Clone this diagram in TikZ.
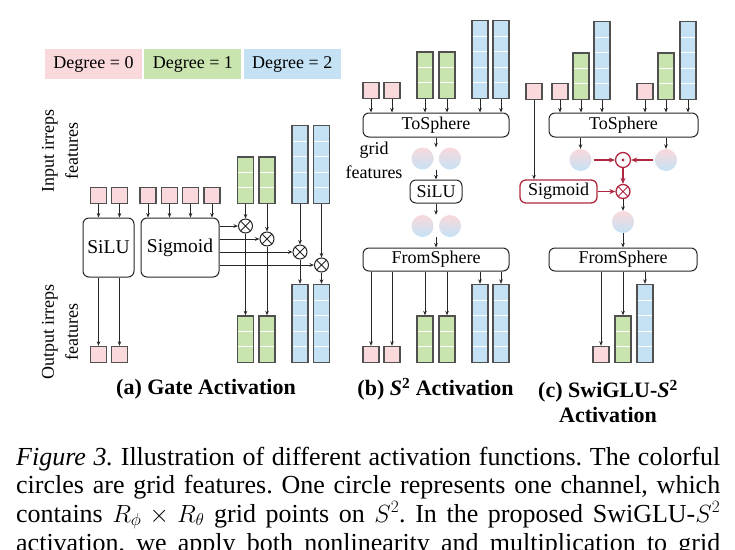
\documentclass[tikz,border=0pt]{standalone}
\usepackage{fontspec}
\setmainfont{Liberation Serif}
\usetikzlibrary{arrows.meta,positioning}
\definecolor{deg0}{HTML}{F9D9DB}
\definecolor{deg1}{HTML}{C9E4AF}
\definecolor{deg2}{HTML}{C5E2F5}
\definecolor{edge}{HTML}{505050}
\definecolor{gate}{HTML}{B0283F}
\frenchspacing

\begin{document}
\begin{tikzpicture}[x=1pt,y=-1pt,font=\fontsize{18}{24}\selectfont,
deg/.style={fill=#1,minimum width=97pt,minimum height=30pt,inner sep=0pt},
sq/.style={draw=edge,line width=1.2pt,fill=deg0,minimum size=16pt,inner sep=0pt,anchor=south},
bar/.style={draw=edge,line width=1.2pt,fill=#1,minimum width=16pt,inner sep=0pt,anchor=south},
cells/.style={path picture={\foreach \k in {1,...,#1}\draw[white,line width=1pt]([yshift=\k*15.5pt]path picture bounding box.south west)--([yshift=\k*15.5pt]path picture bounding box.south east);}},
gb/.style={bar=deg1,minimum height=46.5pt,cells=2},
bb/.style={bar=deg2,minimum height=78pt,cells=4},
op/.style={draw=black!85,rounded corners=6pt,line width=1pt,inner sep=0pt},
gf/.style={circle,minimum size=22pt,inner sep=0pt,top color=deg0,middle color=deg1,bottom color=deg2},
ot/.style={circle,draw=#1,line width=1pt,minimum size=14pt,inner sep=0pt,path picture={\draw[#1,line width=1pt](path picture bounding box.north west)--(path picture bounding box.south east)(path picture bounding box.north east)--(path picture bounding box.south west);}},
ot/.default=black!85,
od/.style={circle,draw=gate,line width=1.3pt,minimum size=15pt,inner sep=0pt,path picture={\fill[gate](path picture bounding box.center)circle(1.7pt);}},
a/.style={-{Stealth[length=4.5pt,width=3.6pt]},line width=.8pt,draw=black!85},
ra/.style={-{Stealth[length=6pt,width=5pt]},line width=1.3pt,draw=gate},
subcap/.style={font=\fontsize{22}{25}\selectfont\bfseries,align=center},
txt/.style={anchor=base west,inner sep=0pt,font=\fontsize{26}{29}\selectfont}]
\clip(0,0)rectangle(735,549);
% legend and side labels
\node[deg=deg0](d0) at (93.5,64){Degree = 0};
\node[deg=deg1,right=2pt of d0](d1){Degree = 1};
\node[deg=deg2,right=2pt of d1](d2){Degree = 2};
\node[rotate=90,align=center](inl) at (60,151){Input irreps\\features};
\node[rotate=90,align=center](outl) at (60,332){Output irreps\\features};
% (a) gate activation
\foreach \x[count=\i] in {98.5,119.5,148,169.5,190.5,212}\node[sq](pia\i) at (\x,204){};
\node[gb](gia1) at (245.5,204){};\node[gb](gia2) at (267,204){};
\node[bb](bia1) at (300,204){};\node[bb](bia2) at (321.5,204){};
\node[op,minimum width=51pt,minimum height=59pt,font=\fontsize{19.5}{24}\selectfont](silua) at (108.5,247.5){SiLU};
\node[op,minimum width=78pt,minimum height=59pt,font=\fontsize{19.5}{24}\selectfont](siga) at (180,247.5){Sigmoid};
\node[ot](m1) at (245.5,226){};\node[ot](m2) at (267,239){};\node[ot](m3) at (300,252){};\node[ot](m4) at (321.5,265){};
\node[sq](poa1) at (98.5,363){};\node[sq](poa2) at (119.5,363){};
\node[gb](goa1) at (245.5,363){};\node[gb](goa2) at (267,363){};
\node[bb](boa1) at (300,363){};\node[bb](boa2) at (321.5,363){};
\draw[a](pia1)--(pia1|-silua.north);\draw[a](pia2)--(pia2|-silua.north);
\foreach \i in {3,...,6}\draw[a](pia\i)--(pia\i|-siga.north);
\draw[a](silua.south-|poa1)--(poa1);\draw[a](silua.south-|poa2)--(poa2);
\draw[a](gia1)--(m1);\draw[a](gia2)--(m2);\draw[a](bia1)--(m3);\draw[a](bia2)--(m4);
\foreach \i in {1,...,4}\draw[a](siga.east|-m\i)--(m\i);
\draw[a](m1)--(goa1);\draw[a](m2)--(goa2);\draw[a](m3)--(boa1);\draw[a](m4)--(boa2);
\node[subcap](capa) at (206,389){(a) Gate Activation};
% (b) S2 activation
\node[sq](pib1) at (371,99){};\node[sq](pib2) at (392,99){};
\node[gb](gib1) at (425,99){};\node[gb](gib2) at (447,99){};
\node[bb](bib1) at (480,99){};\node[bb](bib2) at (501,99){};
\node[op,minimum width=146pt,minimum height=24pt](tsb) at (436,125){ToSphere};
\node[gf](gfb1) at (422.5,158.5){};\node[gf](gfb2) at (450,158.5){};
\node[align=center](gfl) at (374,160){grid\\features};
\node[op,minimum width=52pt,minimum height=23pt](silub) at (436,191.5){SiLU};
\node[gf](gfb3) at (422.5,226){};\node[gf](gfb4) at (450,226){};
\node[op,minimum width=146pt,minimum height=23pt](fsb) at (436,259.5){FromSphere};
\node[sq](pob1) at (371,363){};\node[sq](pob2) at (392,363){};
\node[gb](gob1) at (425,363){};\node[gb](gob2) at (447,363){};
\node[bb](bob1) at (480,363){};\node[bb](bob2) at (501,363){};
\foreach \n in {pib1,pib2,gib1,gib2,bib1,bib2}\draw[a](\n)--(\n|-tsb.north);
\draw[a](tsb)--(tsb.south|-gfb1.north);\draw[a](silub.north|-gfb1.south)--(silub);
\draw[a](silub)--(silub.south|-gfb3.north);\draw[a](fsb.north|-gfb3.south)--(fsb);
\foreach \n in {pob1,pob2,gob1,gob2,bob1,bob2}\draw[a](fsb.south-|\n)--(\n);
\node[subcap](capb) at (435.5,389){(b) {\itshape S}\textsuperscript{2} Activation};
% (c) SwiGLU-S2 activation
\node[sq](pic0) at (534,100){};
\node[sq](pic1) at (560,100){};\node[gb](gic1) at (581,100){};\node[bb](bic1) at (602,100){};
\node[sq](pic2) at (645,100){};\node[gb](gic2) at (666,100){};\node[bb](bic2) at (688,100){};
\node[op,minimum width=149pt,minimum height=24pt](tsc) at (623.5,125){ToSphere};
\node[gf](gfc1) at (580.5,160){};\node[gf](gfc2) at (666,160){};
\node[od](dotc) at (623,160){};
\node[op,draw=gate,line width=1.3pt,minimum width=77pt,minimum height=23pt](sigc) at (558.5,191.5){Sigmoid};
\node[ot=gate,line width=1.3pt](mulc) at (623,191.5){};
\node[gf](gfc3) at (623,222){};
\node[op,minimum width=148pt,minimum height=23pt](fsc) at (623,259.5){FromSphere};
\node[sq](poc) at (601,363){};\node[gb](goc) at (623,363){};\node[bb](boc) at (645,363){};
\foreach \n in {pic1,gic1,bic1,pic2,gic2,bic2}\draw[a](\n)--(\n|-tsc.north);
\draw[a](pic0)--(pic0|-sigc.north);
\draw[a](tsc.south-|gfc1)--(gfc1);\draw[a](tsc.south-|gfc2)--(gfc2);
\draw[ra,shorten <=2pt](gfc1)--(dotc);\draw[ra,shorten <=2pt](gfc2)--(dotc);
\draw[ra,line width=1.8pt](dotc)--(mulc);\draw[ra](sigc)--(mulc);
\draw[a](mulc)--(gfc3);\draw[a](gfc3)--(fsc);
\foreach \n in {poc,goc,boc}\draw[a](fsc.south-|\n)--(\n);
\node[subcap](capc) at (608,401.5){(c) SwiGLU-{\itshape S}\textsuperscript{2}\\Activation};
% figure caption
\node[txt](l1) at (16,465){\makebox[704pt][s]{\textit{Figure 3.} Illustration of different activation functions. The colorful}};
\node[txt](l2) at (16,493.5){\makebox[704pt][s]{circles are grid features. One circle represents one channel, which}};
\node[txt](l3) at (16,522){\makebox[704pt][s]{contains $R_\phi\times R_\theta$ grid points on $S^2$. In the proposed SwiGLU-$S^2$}};
\node[txt](l4) at (16,551){\makebox[704pt][s]{activation, we apply both nonlinearity and multiplication to grid}};
\end{tikzpicture}
\end{document}
